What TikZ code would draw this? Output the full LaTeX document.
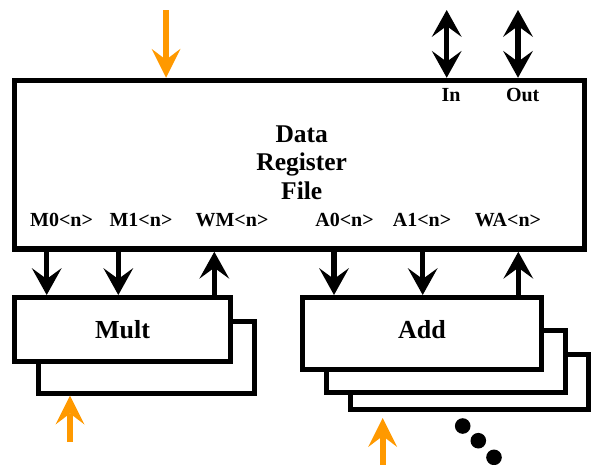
\documentclass[tikz,border=0pt]{standalone}
\usepackage{fontspec}
\setmainfont{Liberation Serif}
\usetikzlibrary{arrows.meta}
\definecolor{feed}{RGB}{255,153,0}
\begin{document}
\begin{tikzpicture}[x=1pt,y=-1pt,
  box/.style={draw, line width=5pt, fill=white, inner sep=0pt},
  unitname/.style={font=\fontsize{26}{30}\selectfont\bfseries},
  port/.style={font=\fontsize{20}{24}\selectfont\bfseries, anchor=base, inner sep=0pt},
  bus/.style={line width=5.5pt, -{Stealth[length=27pt,width=30pt,inset=11pt,line width=0pt]}},
  dbus/.style={line width=5.5pt, {Stealth[length=27pt,width=30pt,inset=11pt,line width=0pt]}-{Stealth[length=27pt,width=30pt,inset=11pt,line width=0pt]}},
  feedarrow/.style={feed, line width=6pt, -{Stealth[length=29pt,width=29pt,inset=11pt,line width=0pt]}}
]
\useasboundingbox (0,0) rectangle (591,464);

% register file
\node[box, line width=5.5pt, minimum width=570pt, minimum height=168.5pt] (drf) at (299.5,164.75) {};
\node[align=center, inner sep=0pt, font=\fontsize{25.5}{28.5}\selectfont\bfseries] (drftitle) at (301.7,162.5) {Data\\Register\\File};
\node[port] (inlbl)  at (451,101.5) {In};
\node[port] (outlbl) at (522.7,101.5) {Out};
\node[port] (m0lbl) at (61.6,226) {M0<n>};
\node[port] (m1lbl) at (141,226) {M1<n>};
\node[port] (wmlbl) at (232,226) {WM<n>};
\node[port] (a0lbl) at (344.5,226) {A0<n>};
\node[port] (a1lbl) at (422,226) {A1<n>};
\node[port] (walbl) at (508,226) {WA<n>};

% multiplier units
\node[box, minimum width=216pt, minimum height=71.5pt] (mult2) at (146.5,357.25) {};
\node[box, unitname, minimum width=216pt, minimum height=63.5pt] (mult) at (122.5,329.25) {Mult};

% adder units
\node[box, minimum width=238pt, minimum height=55pt] (add3) at (469.5,382) {};
\node[box, minimum width=239pt, minimum height=62pt] (add2) at (446,361.5) {};
\node[box, unitname, text depth=8pt, minimum width=239pt, minimum height=72pt] (add) at (422,333.5) {Add};

% bus columns
\coordinate (cm0) at (46.7,0);
\coordinate (cm1) at (118.3,0);
\coordinate (cwm) at (214.3,0);
\coordinate (ca0) at (334,0);
\coordinate (ca1) at (422.7,0);
\coordinate (cwa) at (518.3,0);
\coordinate (cin) at (446.7,10);
\coordinate (cout) at (518,10);
\coordinate (ctop) at (166,10);
\coordinate (multfeed) at (70,442);
\coordinate (addfeedtail) at (382.7,466);
\coordinate (addfeedtip) at (382.7,418);

\draw[bus] (drf.south -| cm0) -- (mult.north -| cm0);
\draw[bus] (drf.south -| cm1) -- (mult.north -| cm1);
\draw[bus] (mult.north -| cwm) -- (drf.south -| cwm);
\draw[bus] (drf.south -| ca0) -- (add.north -| ca0);
\draw[bus] (drf.south -| ca1) -- (add.north -| ca1);
\draw[bus] (add.north -| cwa) -- (drf.south -| cwa);

\draw[dbus] (cin) -- (drf.north -| cin);
\draw[dbus] (cout) -- (drf.north -| cout);

\draw[feedarrow] (ctop) -- (drf.north -| ctop);
\draw[feedarrow] (multfeed) -- (mult2.south -| multfeed);
\draw[feedarrow] (addfeedtail) -- (addfeedtip);

% more adder units follow
\fill (462.7,426) circle[radius=7.8pt];
\fill (478.3,440.7) circle[radius=7.8pt];
\fill (494,457.3) circle[radius=7.8pt];
\end{tikzpicture}
\end{document}
